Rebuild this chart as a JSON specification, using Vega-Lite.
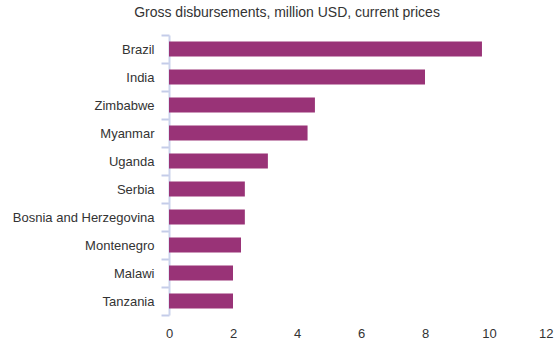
{
  "$schema": "https://vega.github.io/schema/vega-lite/v6.json",
  "autosize": {"type": "none"},
  "width": 384,
  "height": 280,
  "padding": {"left": 169, "top": 35, "right": 6, "bottom": 25},
  "background": "white",
  "title": {
    "text": "Gross disbursements, million USD, current prices",
    "font": "Liberation Sans",
    "fontSize": 14,
    "fontWeight": "normal",
    "color": "#333333",
    "anchor": "middle",
    "dx": -74,
    "offset": 9
  },
  "data": {
    "values": [
      {"country": "Brazil", "value": 9.78},
      {"country": "India", "value": 8.0},
      {"country": "Zimbabwe", "value": 4.56},
      {"country": "Myanmar", "value": 4.33},
      {"country": "Uganda", "value": 3.09},
      {"country": "Serbia", "value": 2.37},
      {"country": "Bosnia and Herzegovina", "value": 2.37},
      {"country": "Montenegro", "value": 2.25},
      {"country": "Malawi", "value": 2.0},
      {"country": "Tanzania", "value": 2.0}
    ]
  },
  "mark": {"type": "bar", "color": "#993377", "height": {"band": 0.54}},
  "encoding": {
    "y": {
      "field": "country",
      "type": "nominal",
      "sort": null,
      "scale": {"paddingInner": 0, "paddingOuter": 0},
      "axis": {
        "title": null,
        "ticks": true,
        "tickBand": "extent",
        "domainColor": "#cbd3ec",
        "domainWidth": 2,
        "tickColor": "#c4cce9",
        "tickWidth": 2,
        "tickSize": 8,
        "labelFont": "Liberation Sans",
        "labelFontSize": 13,
        "labelColor": "#333333",
        "labelPadding": 7
      }
    },
    "x": {
      "field": "value",
      "type": "quantitative",
      "scale": {"domain": [0, 12], "nice": false},
      "axis": {
        "title": null,
        "values": [0, 2, 4, 6, 8, 10, 12],
        "grid": false,
        "domain": false,
        "ticks": false,
        "labelFont": "Liberation Sans",
        "labelFontSize": 13,
        "labelColor": "#333333",
        "labelPadding": 12,
        "labelAlign": {"condition": {"test": "datum.value == 12", "value": "right"}, "value": "center"}
      }
    }
  },
  "config": {"view": {"stroke": null}}
}
